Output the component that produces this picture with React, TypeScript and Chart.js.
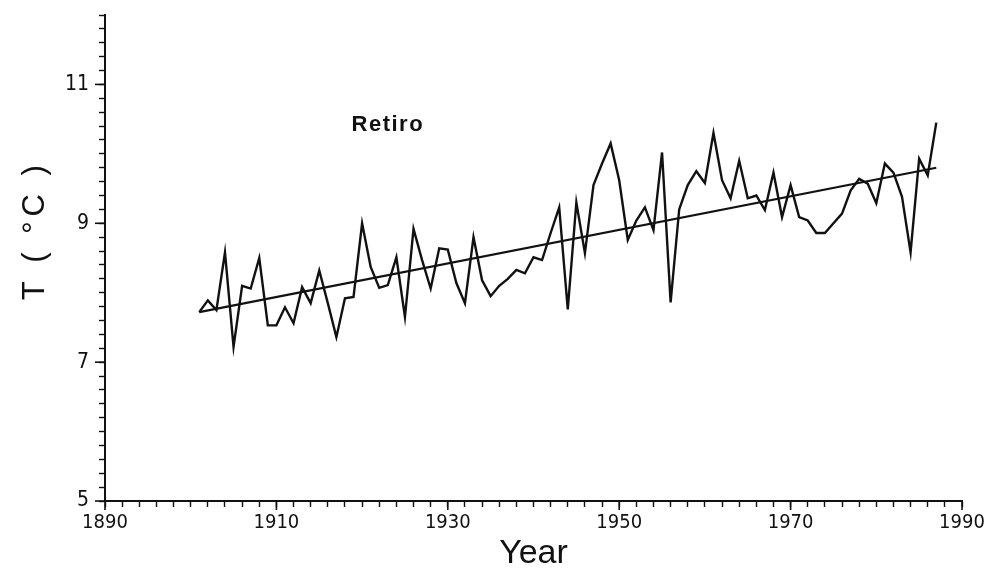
import { useEffect, useRef } from 'react';
import { Chart, registerables } from 'chart.js';

Chart.register(...registerables);

const years = [
  1901, 1902, 1903, 1904, 1905, 1906, 1907, 1908, 1909, 1910,
  1911, 1912, 1913, 1914, 1915, 1916, 1917, 1918, 1919, 1920,
  1921, 1922, 1923, 1924, 1925, 1926, 1927, 1928, 1929, 1930,
  1931, 1932, 1933, 1934, 1935, 1936, 1937, 1938, 1939, 1940,
  1941, 1942, 1943, 1944, 1945, 1946, 1947, 1948, 1949, 1950,
  1951, 1952, 1953, 1954, 1955, 1956, 1957, 1958, 1959, 1960,
  1961, 1962, 1963, 1964, 1965, 1966, 1967, 1968, 1969, 1970,
  1971, 1972, 1973, 1974, 1975, 1976, 1977, 1978, 1979, 1980,
  1981, 1982, 1983, 1984, 1985, 1986, 1987,
];

const temps = [
  7.72, 7.89, 7.75, 8.58, 7.22, 8.10, 8.06, 8.50, 7.53, 7.53,
  7.79, 7.56, 8.08, 7.85, 8.32, 7.85, 7.36, 7.92, 7.94, 9.00,
  8.37, 8.07, 8.11, 8.51, 7.65, 8.92, 8.47, 8.06, 8.64, 8.62,
  8.14, 7.85, 8.80, 8.18, 7.95, 8.10, 8.20, 8.33, 8.28, 8.51,
  8.47, 8.86, 9.23, 7.76, 9.30, 8.57, 9.55, 9.86, 10.15, 9.62,
  8.76, 9.04, 9.23, 8.90, 10.02, 7.86, 9.20, 9.55, 9.75, 9.58,
  10.30, 9.62, 9.36, 9.90, 9.36, 9.40, 9.19, 9.73, 9.09, 9.55,
  9.09, 9.04, 8.86, 8.86, 9.00, 9.14, 9.47, 9.64, 9.57, 9.29,
  9.86, 9.73, 9.38, 8.58, 9.93, 9.69, 10.45,
];

const trendYears = [1901, 1987];
const trendTemps = [7.72, 9.8];

const xTickLabels = [1890, 1910, 1930, 1950, 1970, 1990];
const yTickLabels = [5, 7, 9, 11];

const stationLabel = 'Retiro';
const stationLabelPos = [1923, 10.41];

const yTitle = 'T ( °C )';
const yTitlePos = 8.9;
const xTitle = 'Year';

const INK = '#111111';
const FONT = '"Liberation Sans Narrow", "DejaVu Sans Condensed", "DejaVu Sans", sans-serif';
const TITLE_FONT = '"Liberation Sans", "DejaVu Sans", sans-serif';

const isLabel = (list: number[], v: number) => list.some((l) => Math.abs(l - v) < 1e-6);

const extras = {
  id: 'extras',
  afterDraw(chart: any) {
    const { ctx, scales } = chart;
    const x = scales.x;
    const y = scales.y;
    ctx.save();
    ctx.strokeStyle = INK;
    ctx.lineWidth = 1.6;
    for (const v of yTickLabels) {
      const py = y.getPixelForValue(v);
      ctx.beginPath();
      ctx.moveTo(y.right - 10, py);
      ctx.lineTo(y.right, py);
      ctx.stroke();
    }
    for (const v of xTickLabels) {
      const px = x.getPixelForValue(v);
      ctx.beginPath();
      ctx.moveTo(px, x.top);
      ctx.lineTo(px, x.top + 9);
      ctx.stroke();
    }
    ctx.fillStyle = INK;
    ctx.font = `bold 22px ${TITLE_FONT}`;
    (ctx as any).letterSpacing = '1.5px';
    ctx.textAlign = 'center';
    ctx.textBaseline = 'middle';
    ctx.fillText(
      stationLabel,
      x.getPixelForValue(stationLabelPos[0]),
      y.getPixelForValue(stationLabelPos[1])
    );
    // y-axis title
    ctx.save();
    ctx.translate(35, y.getPixelForValue(yTitlePos));
    ctx.rotate(-Math.PI / 2);
    ctx.font = `31px ${TITLE_FONT}`;
    (ctx as any).letterSpacing = '5px';
    ctx.fillText(yTitle, 0, 0);
    ctx.restore();
    ctx.restore();
  },
};

export default function App() {
  const canvasRef = useRef<HTMLCanvasElement | null>(null);

  useEffect(() => {
    document.body.style.margin = '0';
    const canvas = canvasRef.current;
    if (!canvas) return;
    const chart = new Chart(canvas, {
      type: 'line',
      data: {
        datasets: [
          {
            label: 'T',
            data: years.map((yr, i) => ({ x: yr, y: temps[i] })),
            borderColor: INK,
            borderWidth: 2.4,
            pointRadius: 0,
            tension: 0,
            fill: false,
          },
          {
            label: 'trend',
            data: trendYears.map((yr, i) => ({ x: yr, y: trendTemps[i] })),
            borderColor: INK,
            borderWidth: 2.2,
            pointRadius: 0,
            tension: 0,
            fill: false,
          },
        ],
      },
      plugins: [extras],
      options: {
        responsive: false,
        animation: false,
        events: [],
        layout: { padding: { left: 0, right: 32, top: 15, bottom: 0 } },
        plugins: {
          legend: { display: false },
          tooltip: { enabled: false },
        },
        scales: {
          x: {
            type: 'linear',
            min: 1890,
            max: 1990,
            afterFit: (s: any) => {
              s.height = 70;
              s.paddingLeft = 0;
              s.paddingRight = 0;
            },
            border: { display: true, color: INK, width: 2 },
            grid: {
              drawOnChartArea: false,
              drawTicks: true,
              tickLength: 6,
              tickColor: INK,
              tickWidth: 1.4,
            },
            ticks: {
              stepSize: 2,
              autoSkip: false,
              maxRotation: 0,
              minRotation: 0,
              padding: 4,
              color: INK,
              font: { family: FONT, size: 20 },
              callback: (v: any) => (isLabel(xTickLabels, Number(v)) ? String(Math.round(Number(v))) : ''),
            },
            title: {
              display: true,
              text: xTitle,
              color: INK,
              font: { family: TITLE_FONT, size: 34, lineHeight: 1 },
              padding: { top: 0, bottom: 0 },
            },
          },
          y: {
            type: 'linear',
            min: 5,
            max: 12,
            afterFit: (s: any) => {
              s.width = 105;
              s.paddingTop = 0;
              s.paddingBottom = 0;
            },
            border: { display: true, color: INK, width: 2 },
            grid: {
              drawOnChartArea: false,
              drawTicks: true,
              tickLength: 6,
              tickColor: INK,
              tickWidth: 1.4,
            },
            ticks: {
              stepSize: 0.2,
              autoSkip: false,
              padding: 10,
              color: INK,
              font: { family: FONT, size: 21 },
              callback: (v: any) => (isLabel(yTickLabels, Number(v)) ? String(Math.round(Number(v))) : ''),
            },
          },
        },
      },
    } as any);
    return () => chart.destroy();
  }, []);

  return (
    <div style={{ width: 994, height: 571, background: '#fff' }}>
      <canvas ref={canvasRef} width={994} height={571} style={{ display: 'block' }} />
    </div>
  );
}
